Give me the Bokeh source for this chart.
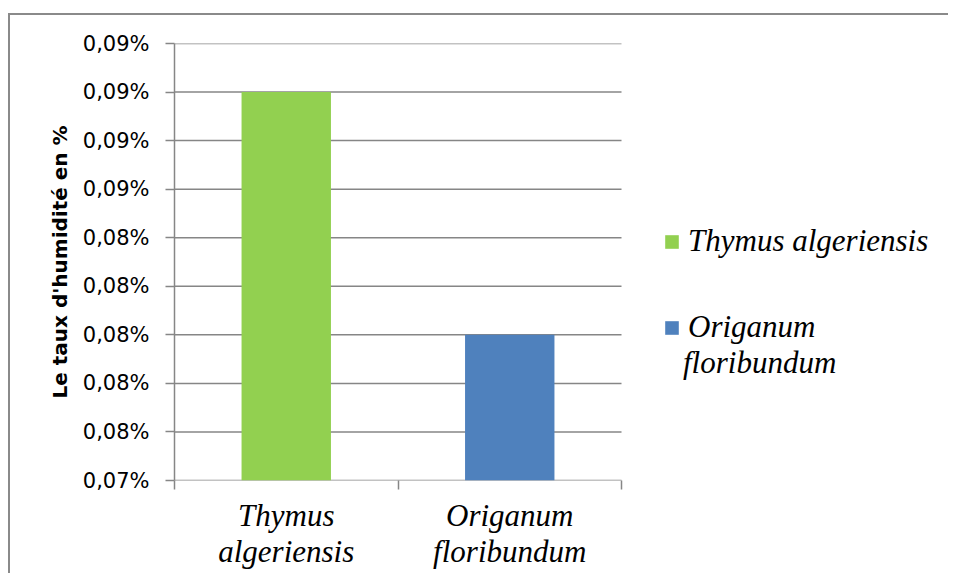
from bokeh.plotting import figure
from bokeh.models import FixedTicker, Legend, LegendItem, Range1d
from bokeh.embed import file_html
from bokeh.resources import INLINE

categories = ["Thymus algeriensis", "Origanum floribundum"]
cat_labels = ["Thymus\nalgeriensis", "Origanum\nfloribundum"]
legend_first = ["Thymus algeriensis", "Origanum"]
legend_second = "floribundum"
values = [0.090, 0.080]
colors = ["#92D050", "#4F81BD"]
y_ticks = [0.074, 0.076, 0.078, 0.080, 0.082, 0.084, 0.086, 0.088, 0.090, 0.092]
y_labels = ["0,07%", "0,08%", "0,08%", "0,08%", "0,08%", "0,08%", "0,09%", "0,09%", "0,09%", "0,09%"]
y_title = "Le taux d'humidité en %"

GRAY = "#868686"
y_min, y_max = y_ticks[0], y_ticks[-1]
n = len(categories)
xs = [i + 0.5 for i in range(n)]

W, H = 940, 560
LEFT, TOP, BOTTOM = 164, 28, 95
FRAME_W = 772          # frame extends to the right so the legend sits inside it
PLOT_W = 447           # width of the visible plot area (categories)
x_end = n * FRAME_W / PLOT_W

p = figure(width=W, height=H, output_backend="svg", toolbar_location=None,
           x_range=Range1d(0, x_end), y_range=Range1d(y_min, y_max),
           min_border_left=LEFT, min_border_right=W - LEFT - FRAME_W,
           min_border_top=TOP, min_border_bottom=BOTTOM)
p.outline_line_color = None
p.styles = {"border-left": "2px solid #8a8a8a", "border-top": "2px solid #8a8a8a",
            "margin-left": "8px", "margin-top": "13px"}

# horizontal grid lines across the category area only
p.segment(x0=0, x1=n, y0=y_ticks, y1=y_ticks, line_color=GRAY, line_width=1.5)

renderers = []
for x, v, c in zip(xs, values, colors):
    r = p.vbar(x=[x], top=[v], bottom=y_min, width=0.4, fill_color=c, line_color=None)
    renderers.append(r)
blank = p.vbar(x=[0.5], top=[y_min], bottom=y_min, width=0.0, fill_alpha=0, line_alpha=0)

# y axis
p.yaxis.ticker = FixedTicker(ticks=y_ticks, minor_ticks=[])
p.yaxis.major_label_overrides = {t: l for t, l in zip(y_ticks, y_labels)}
p.yaxis.major_label_text_font = "DejaVu Sans"
p.yaxis.major_label_text_font_size = "21px"
p.yaxis.major_label_text_color = "black"
p.yaxis.axis_line_color = GRAY
p.yaxis.axis_line_width = 1.5
p.yaxis.major_tick_line_color = GRAY
p.yaxis.major_tick_line_width = 1.5
p.yaxis.major_tick_in = 0
p.yaxis.major_tick_out = 9
p.yaxis.minor_tick_line_color = None
p.yaxis.major_label_standoff = 16
p.yaxis.axis_label = y_title
p.yaxis.axis_label_text_font = "DejaVu Sans"
p.yaxis.axis_label_text_font_style = "bold"
p.yaxis.axis_label_text_font_size = "20px"
p.yaxis.axis_label_text_color = "black"
p.yaxis.axis_label_standoff = 8

# x axis
p.xaxis.ticker = FixedTicker(ticks=xs, minor_ticks=list(range(n + 1)))
p.xaxis.major_label_overrides = {x: l for x, l in zip(xs, cat_labels)}
p.xaxis.major_label_text_font = "Liberation Serif"
p.xaxis.major_label_text_font_style = "italic"
p.xaxis.major_label_text_font_size = "31px"
p.xaxis.major_label_text_color = "black"
p.xaxis.major_label_text_line_height = 1.05
p.xaxis.major_tick_line_color = None
p.xaxis.minor_tick_line_color = GRAY
p.xaxis.minor_tick_line_width = 1.5
p.xaxis.minor_tick_in = 0
p.xaxis.minor_tick_out = 9
p.xaxis.axis_line_color = None
p.xaxis.major_label_standoff = 8

p.xgrid.grid_line_color = None
p.ygrid.grid_line_color = None


def style_legend(lg):
    lg.label_text_font = "Liberation Serif"
    lg.label_text_font_style = "italic"
    lg.label_text_font_size = "31px"
    lg.label_text_color = "black"
    lg.glyph_width = 17
    lg.glyph_height = 17
    lg.label_height = 40
    lg.label_standoff = 8
    lg.padding = 0
    lg.margin = 0
    lg.border_line_color = None
    lg.background_fill_alpha = 0


legend_a = Legend(items=[LegendItem(label=l, renderers=[r]) for l, r in zip(legend_first, renderers)],
                  location=(489, 133))
style_legend(legend_a)
legend_a.spacing = 46
p.add_layout(legend_a)

legend_b = Legend(items=[LegendItem(label=legend_second, renderers=[blank])], location=(484, 97))
style_legend(legend_b)
p.add_layout(legend_b)

open("out.html", "w").write(file_html(p, INLINE))
